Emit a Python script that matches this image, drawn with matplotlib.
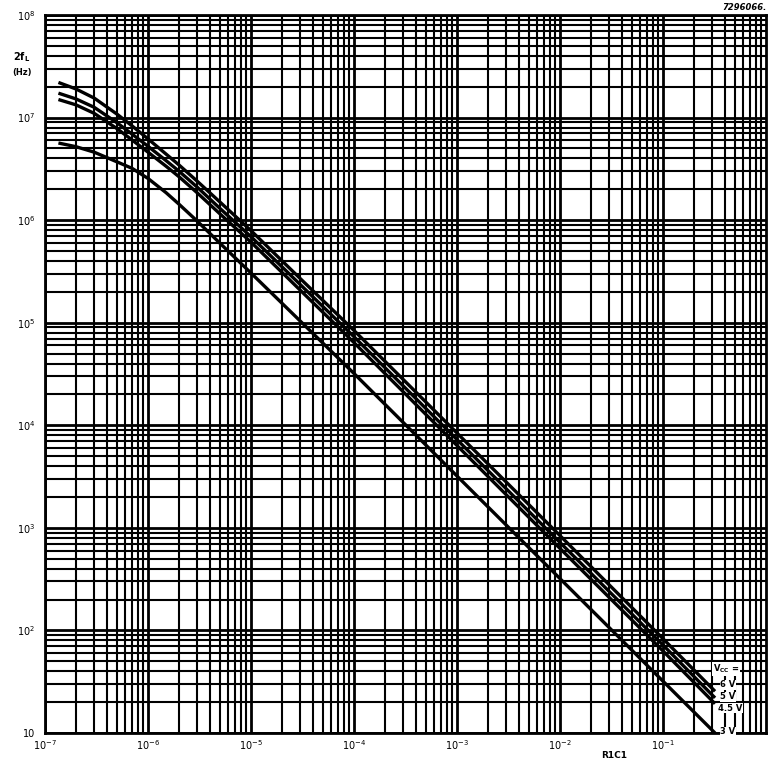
import numpy as np
import matplotlib
matplotlib.use("Agg")
import matplotlib.pyplot as plt
from matplotlib.ticker import LogLocator, NullFormatter

plt.rcParams['font.family'] = ['DejaVu Sans']
plt.rcParams['mathtext.fontset'] = 'dejavusans'

# R1C1 values (x) at which curves were read
r1c1 = [1.35e-7, 2e-7, 3e-7, 5e-7, 7e-7, 1e-6, 1.5e-6, 2e-6, 3e-6, 5e-6,
        1e-5, 3e-5, 1e-4, 1e-3, 1e-2, 1e-1, 0.32]
# 2fL (Hz) per supply voltage
f_6v = [2.2e7, 1.9e7, 1.55e7, 1.08e7, 8.3e6, 6.2e6, 4.4e6, 3.45e6, 2.4e6, 1.5e6,
        7.9e5, 2.7e5, 8.4e4, 8.4e3, 8.4e2, 83, 25.5]
f_5v = [1.73e7, 1.52e7, 1.26e7, 8.9e6, 6.9e6, 5.25e6, 3.8e6, 3.0e6, 2.1e6, 1.3e6,
        6.9e5, 2.36e5, 7.3e4, 7.25e3, 7.2e2, 72, 22]
f_45v = [1.5e7, 1.33e7, 1.1e7, 7.8e6, 6.05e6, 4.6e6, 3.35e6, 2.65e6, 1.85e6, 1.15e6,
         6.1e5, 2.08e5, 6.4e4, 6.35e3, 6.3e2, 63, 19.3]
f_3v = [5.65e6, 5.2e6, 4.6e6, 3.7e6, 3.2e6, 2.55e6, 1.85e6, 1.43e6, 9.8e5, 5.95e5,
        3.05e5, 1.04e5, 3.2e4, 3.2e3, 3.2e2, 32, 10]

series = [f_6v, f_5v, f_45v, f_3v]
curve_labels = ["6 V", "5 V", "4.5 V", "3 V"]

x_ticks = [1e-7, 1e-6, 1e-5, 1e-4, 1e-3, 1e-2, 1e-1]
x_ticklabels = [r"$10^{-7}$", r"$10^{-6}$", r"$10^{-5}$", r"$10^{-4}$",
                r"$10^{-3}$", r"$10^{-2}$", r"$10^{-1}$"]
y_ticks = [10, 1e2, 1e3, 1e4, 1e5, 1e6, 1e7, 1e8]
y_ticklabels = ["10", r"$10^{2}$", r"$10^{3}$", r"$10^{4}$", r"$10^{5}$",
                r"$10^{6}$", r"$10^{7}$", r"$10^{8}$"]

W, H = 768, 763
fig = plt.figure(figsize=(W / 100, H / 100), dpi=100)
ax = fig.add_axes([45 / W, 30 / H, 721 / W, 718 / H])
ax.set_xscale('log')
ax.set_yscale('log')
ax.set_xlim(1e-7, 1.0)
ax.set_ylim(10, 1e8)

for axis in (ax.xaxis, ax.yaxis):
    axis.set_minor_locator(LogLocator(base=10, subs=np.arange(2, 10), numticks=200))
    axis.set_minor_formatter(NullFormatter())

ax.set_xticks(x_ticks)
ax.set_xticklabels(x_ticklabels)
ax.set_yticks(y_ticks)
ax.set_yticklabels(y_ticklabels)
ax.tick_params(which='both', length=0)
ax.tick_params(axis='x', pad=4, labelsize=7)
ax.tick_params(axis='y', pad=7, labelsize=7)

ax.grid(True, which='major', color='black', lw=2.0)
ax.grid(True, which='minor', color='black', lw=1.5)
ax.set_axisbelow(True)
for s in ax.spines.values():
    s.set_linewidth(2.0)
    s.set_color('black')

for ys in series:
    ax.plot(r1c1, ys, color='black', lw=2.4, solid_capstyle='butt',
            solid_joinstyle='round', zorder=3)

# labels at right end
lab_style = dict(fontsize=6, fontweight='bold', color='black', zorder=5,
                 bbox=dict(facecolor='white', edgecolor='none', pad=0.3))
ax.text(0.305, 42, r"$\mathbf{V_{CC}}$ =", ha='left', va='center', **lab_style)
label_y = [29.5, 22.5, 17.4, 10.3]
label_x = [0.36, 0.36, 0.345, 0.36]
for lab, xx, yy in zip(curve_labels, label_x, label_y):
    ax.text(xx, yy, lab, ha='left', va='center', **lab_style)

fig.text(22 / W, 1 - 57 / H, r"$\mathbf{2f_L}$", fontsize=7, ha='center', va='center')
fig.text(22 / W, 1 - 73 / H, "(Hz)", fontsize=6, fontweight='bold', ha='center', va='center')
fig.text(614 / W, 1 - 756 / H, "R1C1", fontsize=6.5, fontweight='bold', ha='center', va='center')
fig.text(722 / W, 1 - 7 / H, "7296066.", fontsize=6, fontweight='bold', style='italic',
         ha='left', va='center')

fig.savefig("out.png", dpi=100)
